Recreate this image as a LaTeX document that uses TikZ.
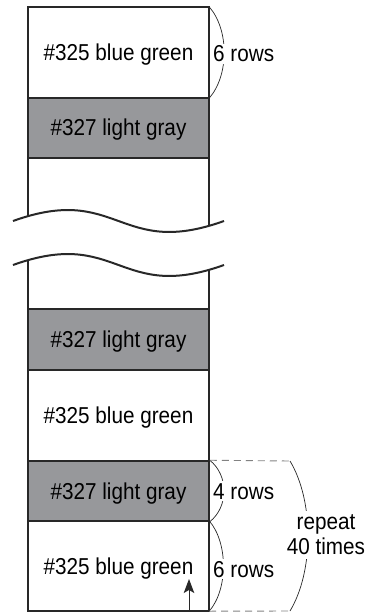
\documentclass[tikz,border=0pt]{standalone}
\usepackage{fontspec}
\setmainfont{Liberation Sans}[FakeStretch=0.9]
\usetikzlibrary{arrows.meta}
\definecolor{graycell}{RGB}{151,152,155}
\definecolor{inkline}{RGB}{40,40,40}
\definecolor{dashcol}{RGB}{130,130,130}
\tikzset{
  rowbox/.style={rectangle, minimum width=181pt, inner sep=0pt, text height=16pt, text depth=0pt,
    font=\fontsize{23}{25}\selectfont},
  grayrow/.style={rowbox, fill=graycell, draw=inkline, line width=1.5pt},
  whiterow/.style={rowbox},
  colline/.style={draw=inkline, line width=2pt},
  waveline/.style={draw=inkline, line width=2pt},
  bracket/.style={draw=inkline, line width=0.7pt},
  dashline/.style={draw=dashcol, line width=0.9pt, dash pattern=on 7pt off 5pt},
  sidelabel/.style={fill=white, inner xsep=1pt, inner ysep=2pt, font=\fontsize{23}{25}\selectfont},
  uparrow/.style={draw=inkline, line width=1pt, -{Stealth[length=14pt,width=10.5pt,inset=3pt]}}
}
\begin{document}
\begin{tikzpicture}[x=1pt,y=-1pt]
\useasboundingbox (0,0) rectangle (376,612);
% rows
\node[whiterow, minimum height=91pt] (r1) at (118.5,52.5) {\#325 blue green};
\node[grayrow, minimum height=60pt] (r2) at (118.5,128) {\#327 light gray};
\node[grayrow, minimum height=61pt] (r4) at (118.5,339.5) {\#327 light gray};
\node[whiterow, minimum height=91pt] (r5) at (118.5,415.5) {\#325 blue green};
\node[grayrow, minimum height=60pt] (r6) at (118.5,491) {\#327 light gray};
\node[whiterow, minimum height=90pt] (r7) at (118.5,566) {\#325 blue green};
% column outline
\draw[colline] (r1.north west) rectangle (r7.south east);
% break
\coordinate (wa1) at (13,221);
\coordinate (wa2) at (224,221);
\coordinate (wb1) at (13,265);
\coordinate (wb2) at (224,265);
\fill[white] (wa1) .. controls (118.5,183) and (118.5,259) .. (wa2) -- (wb2)
  .. controls (118.5,303) and (118.5,227) .. (wb1) -- cycle;
\draw[waveline] (wa1) .. controls (118.5,183) and (118.5,259) .. (wa2);
\draw[waveline] (wb1) .. controls (118.5,227) and (118.5,303) .. (wb2);
% top bracket
\draw[bracket] (r1.north east) .. controls +(20,23) and +(20,-23) .. (r1.south east);
\node[sidelabel, anchor=base west] (l1) at (212,62) {6 rows};
% bottom brackets
\draw[bracket] (r6.north east) .. controls +(19,15) and +(19,-15) .. (r6.south east);
\draw[bracket] (r7.north east) .. controls +(19,22) and +(19,-22) .. (r7.south east);
\node[sidelabel, anchor=base west] (l2) at (212,499) {4 rows};
\node[sidelabel, anchor=base west] (l3) at (212,577) {6 rows};
% repeat
\coordinate (d1) at (290,461);
\coordinate (d2) at (290,611);
\draw[dashline] (r6.north east) -- (d1);
\draw[dashline] (r7.south east) -- (d2);
\draw[bracket] (d1) .. controls +(24,40) and +(24,-40) .. (d2);
\node[sidelabel, align=center, inner sep=4pt] (l4) at (326,535) {repeat\\40 times};
% arrow
\coordinate (aS) at (189,611);
\coordinate (aE) at (189,579);
\draw[uparrow] (aS) -- (aE);
\end{tikzpicture}
\end{document}
